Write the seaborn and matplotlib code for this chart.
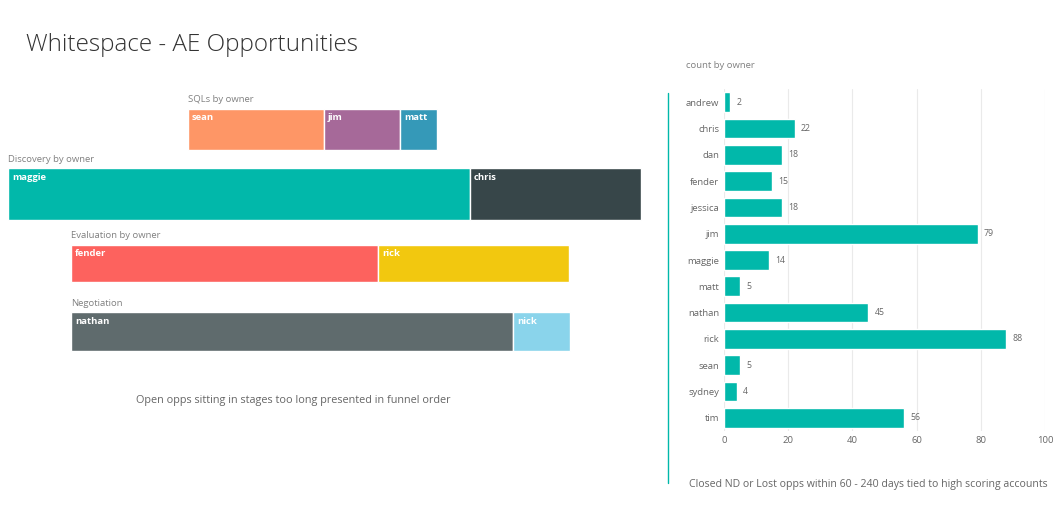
import matplotlib
matplotlib.use("Agg")
import matplotlib.pyplot as plt
import seaborn as sns
import pandas as pd

sns.set_style("white")
plt.rcParams['font.family'] = ['Open Sans', 'DejaVu Sans']

# funnel data (relative widths)
stages = ["SQLs by owner", "Discovery by owner", "Evaluation by owner", "Negotiation"]
stage_owners = [["sean", "jim", "matt"], ["maggie", "chris"], ["fender", "rick"], ["nathan", "nick"]]
stage_values = [[136, 76, 37], [462, 171], [307, 191], [442, 57]]
stage_colors = [["#FE9666", "#A66999", "#3599B8"], ["#01B8AA", "#374649"],
                ["#FD625E", "#F2C80F"], ["#5F6B6D", "#8AD4EB"]]
stage_left = [188, 8, 71, 71]
stage_y = [129, 194, 263.5, 331.5]
stage_h = [41, 52, 37, 39]

owners = ["andrew", "chris", "dan", "fender", "jessica", "jim", "maggie", "matt",
          "nathan", "rick", "sean", "sydney", "tim"]
counts = [2, 22, 18, 15, 18, 79, 14, 5, 45, 88, 5, 4, 56]

W, H = 1059, 515
fig = plt.figure(figsize=(W / 100, H / 100), dpi=100)
fig.text(26 / W, 1 - 45 / H, "Whitespace - AE Opportunities", fontsize=17.5,
         color="#333333", va="center", fontweight="light")

# funnel axes in pixel units
fa = fig.add_axes([0, 0, 660 / W, 1])
fa.set_xlim(0, 660)
fa.set_ylim(H, 0)
fa.axis("off")
for name, own, vals, cols, left, y, h in zip(stages, stage_owners, stage_values,
                                             stage_colors, stage_left, stage_y, stage_h):
    fa.barh(y, vals, left=[left + sum(vals[:i]) for i in range(len(vals))],
            height=h, color=cols, edgecolor="white", linewidth=1)
    fa.text(left, y - h / 2 - 9, name, fontsize=6.8, color="#808080", va="center")
    x = left
    for o, v in zip(own, vals):
        fa.text(x + 4, y - h / 2 + 9, o, fontsize=6.8, color="white", va="center", fontweight="bold")
        x += v
fa.text(293, 400, "Open opps sitting in stages too long presented in funnel order",
        fontsize=7.8, color="#666666", ha="center", va="center")

# right bar chart
ax = fig.add_axes([724 / W, 1 - 431 / H, (1045 - 724) / W, (431 - 89) / H])
df = pd.DataFrame({"owner": owners, "count": counts})
sns.barplot(data=df, y="owner", x="count", color="#01B8AA", ax=ax, width=0.75, saturation=1)
ax.set_xlim(0, 100)
ax.set_xticks([0, 20, 40, 60, 80, 100])
ax.grid(axis="x", color="#EAEAEA", lw=0.8)
ax.set_axisbelow(True)
for s in ax.spines.values():
    s.set_visible(False)
ax.set_xlabel("")
ax.set_ylabel("")
ax.tick_params(axis="both", labelsize=6.8, colors="#666666", length=0)
for i, c in enumerate(counts):
    ax.text(c + 2, i, str(c), fontsize=6.3, color="#666666", va="center")
fig.text(686 / W, 1 - 66 / H, "count by owner", fontsize=6.8, color="#808080", va="center")
fig.add_artist(plt.Line2D([668 / W, 668 / W], [1 - 93 / H, 1 - 483 / H], color="#01B8AA", lw=1))
fig.text(868 / W, 1 - 484 / H, "Closed ND or Lost opps within 60 - 240 days tied to high scoring accounts",
         fontsize=7.6, color="#666666", ha="center", va="center")

fig.savefig("out.png", dpi=100, facecolor="white")
